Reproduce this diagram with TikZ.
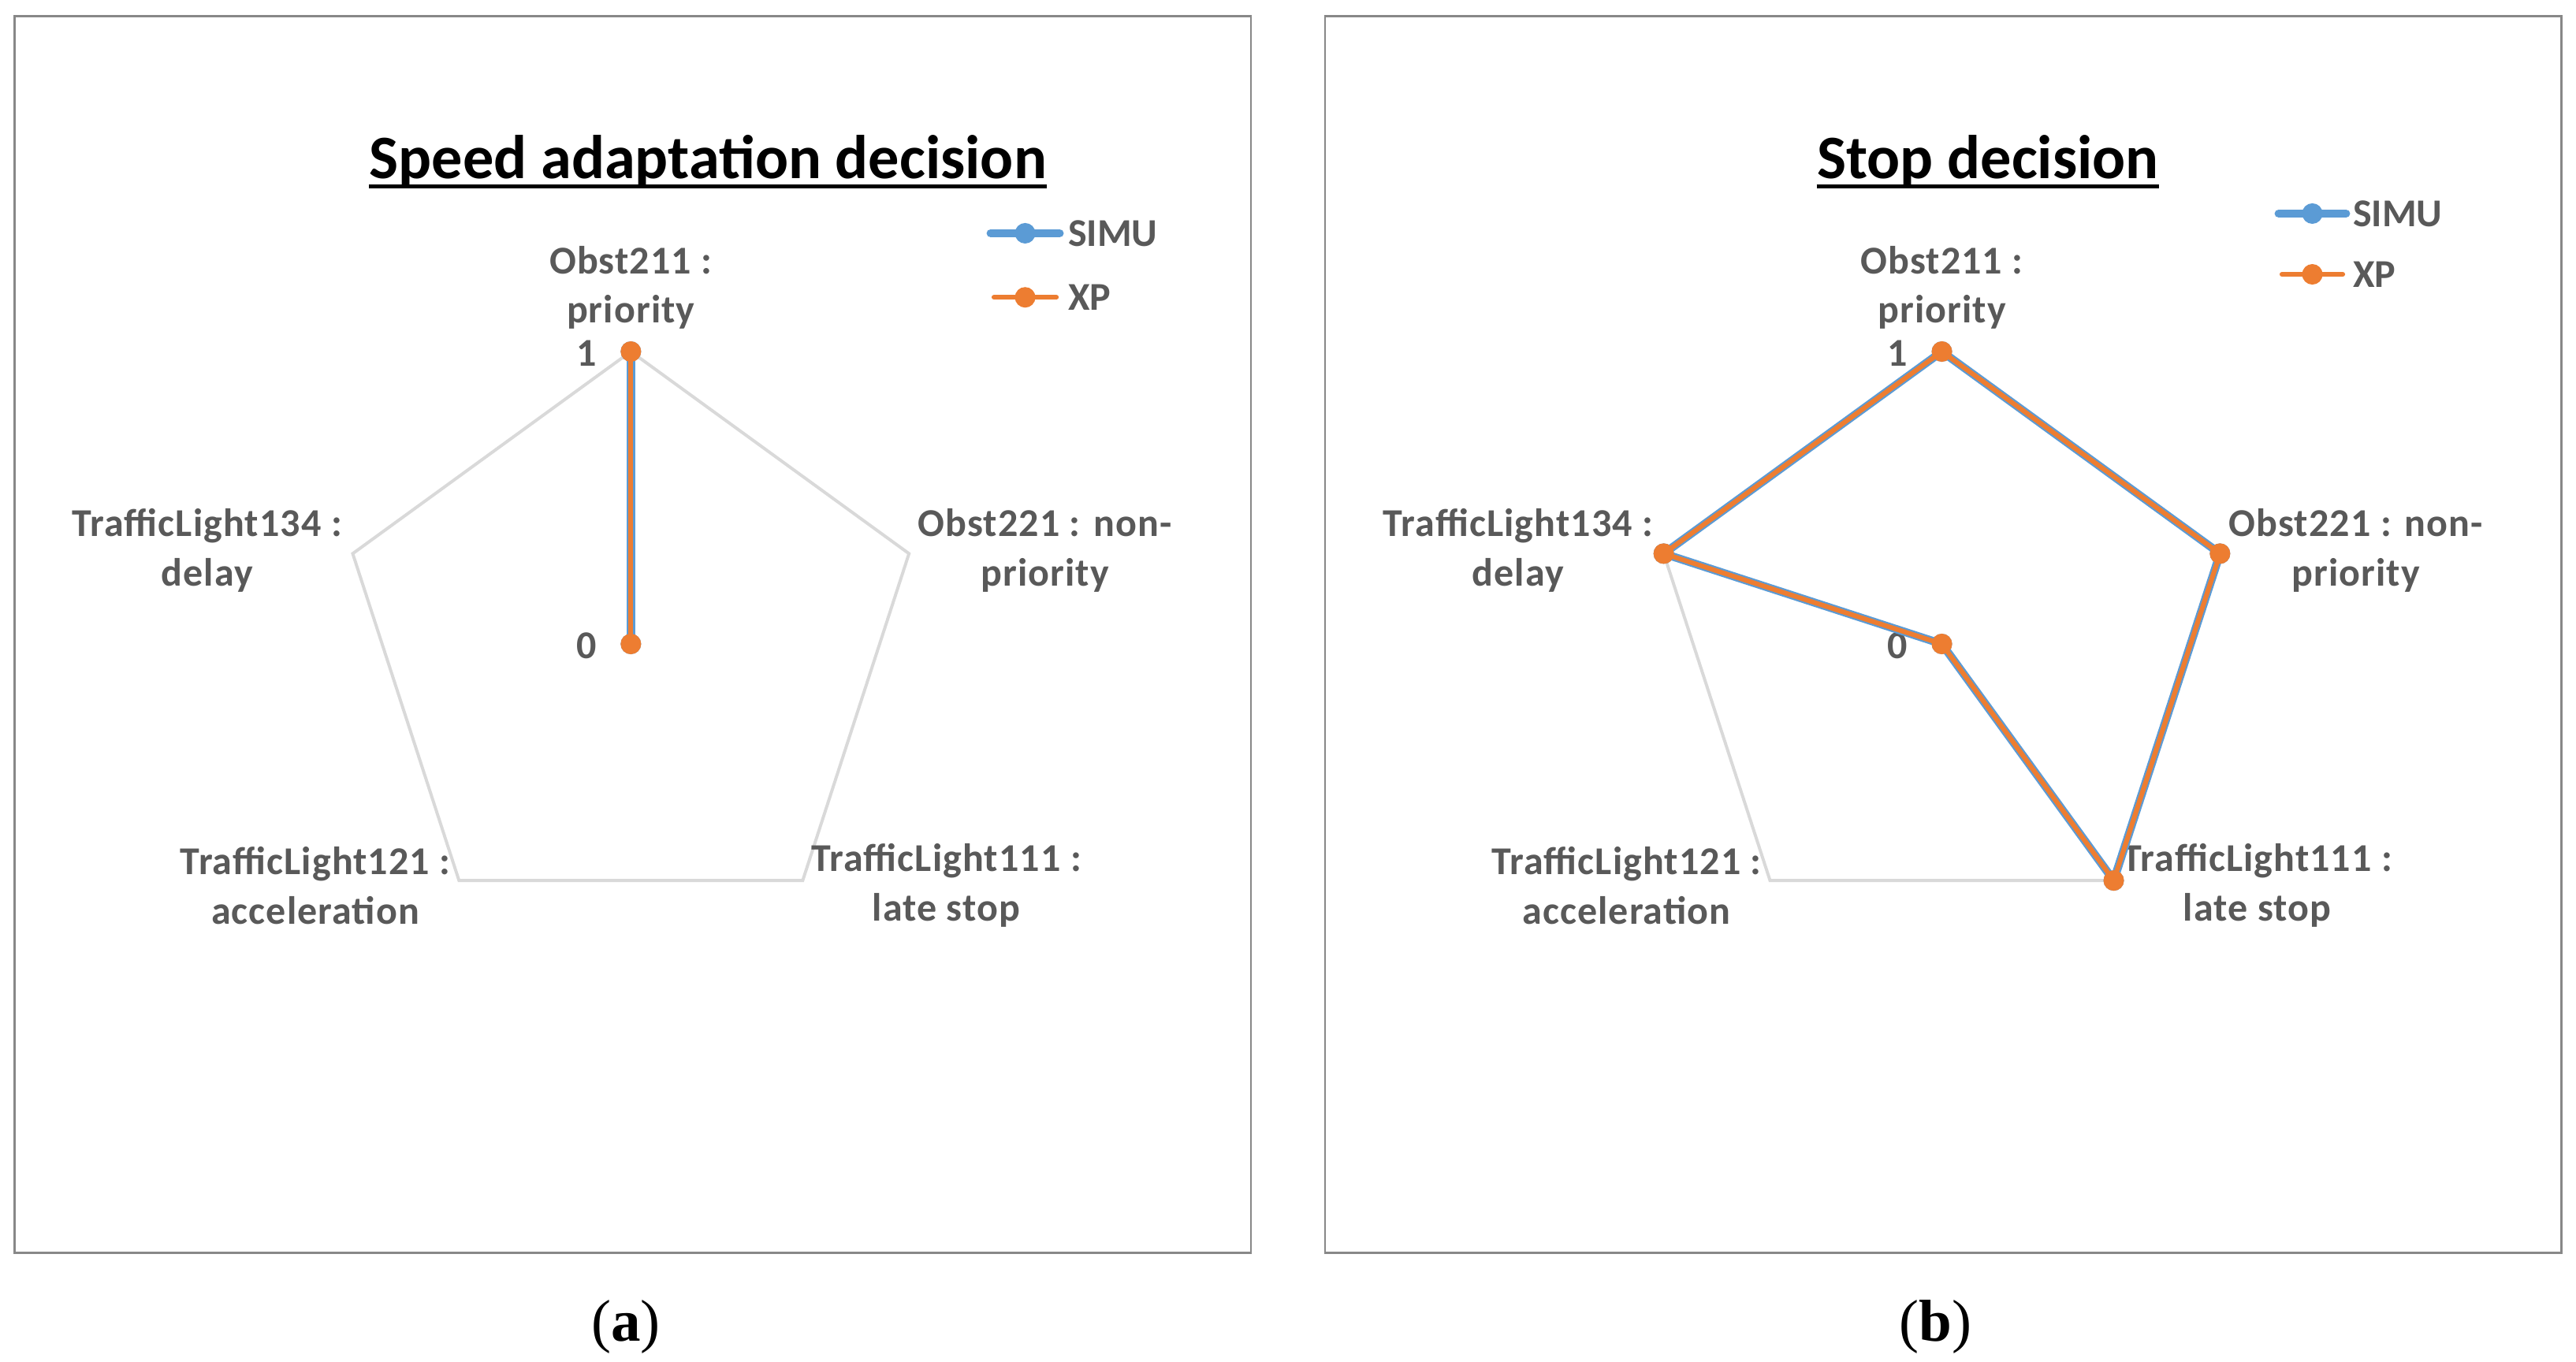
\documentclass[tikz,border=0pt]{standalone}
\usepackage{fontspec}
\newfontfamily\calfont{Carlito}
\newfontfamily\callab{Carlito}[LetterSpace=2.2]
\newfontfamily\capfont{Liberation Serif}
\definecolor{simublue}{HTML}{5B9BD5}
\definecolor{xporange}{HTML}{ED7D31}
\definecolor{labgray}{HTML}{595959}
\definecolor{gridgray}{HTML}{D9D9D9}
\definecolor{framegray}{HTML}{888888}
\tikzset{
  panel/.style={draw=framegray,line width=1.3pt},
  grid/.style={draw=gridgray,line width=1.9pt,line join=miter},
  simuline/.style={draw=simublue,line width=5pt,line join=round,line cap=round},
  xpline/.style={draw=xporange,line width=2.9pt,line join=round,line cap=round},
  simudot/.style={circle,fill=simublue,inner sep=0pt,minimum size=12.5pt},
  xpdot/.style={circle,fill=xporange,inner sep=0pt,minimum size=12.5pt},
  catlab/.style={text=labgray,font=\callab\bfseries\fontsize{24}{30}\selectfont,align=center,inner sep=0pt},
  ticklab/.style={text=labgray,font=\calfont\bfseries\fontsize{24}{30}\selectfont,inner sep=0pt},
  legtext/.style={text=labgray,font=\calfont\bfseries\fontsize{24}{30}\selectfont,anchor=west,inner sep=0pt},
  charttitle/.style={text=black,font=\calfont\bfseries\fontsize{37.6}{45}\selectfont,inner sep=0pt,anchor=base},
  subcap/.style={font=\capfont\fontsize{36}{40}\selectfont,anchor=base,inner sep=0pt}
}
\begin{document}
\begin{tikzpicture}[x=1pt,y=-1pt]
\useasboundingbox (0,0) rectangle (1568,829.1);
% frames
\draw[panel] (9,10) rectangle (761.5,762.5);
\draw[panel] (806.5,10) rectangle (1559,762.5);

% ---------- panel (a) ----------
\coordinate (aC) at (384,392);
\coordinate (aT) at (384,214);
\coordinate (aR) at (553.3,337);
\coordinate (aBR) at (488.6,536);
\coordinate (aBL) at (279.4,536);
\coordinate (aL) at (214.7,337);
\draw[grid] (aT) -- (aR) -- (aBR) -- (aBL) -- (aL) -- cycle;

\node[charttitle] (ttlA) at (431,108.7) {Speed adaptation decision};
\draw[line width=2.3pt] ([yshift=-4.7pt]ttlA.base west) -- ([yshift=-4.7pt]ttlA.base east);

\node[catlab] (aLabT) at (384,175) {Obst211 :\\priority};
\node[catlab] (aLabR) at (636,335) {Obst221 : non-\\priority};
\node[catlab] (aLabBR) at (576,539) {TrafficLight111 :\\late stop};
\node[catlab] (aLabBL) at (192,539) {TrafficLight121 :\\acceleration};
\node[catlab] (aLabL) at (126,335) {TrafficLight134 :\\delay};
\node[ticklab] (aOne) at (357,215) {1};
\node[ticklab] (aZero) at (357,393) {0};

\draw[simuline] (aT) -- (aC);
\node[simudot] (aS1) at (aT) {};
\node[simudot] (aS2) at (aC) {};
\draw[xpline] (aT) -- (aC);
\node[xpdot] (aX1) at (aT) {};
\node[xpdot] (aX2) at (aC) {};

% legend (a)
\coordinate (aLs1) at (603,142); \coordinate (aLs2) at (645,142);
\draw[simuline] (aLs1) -- (aLs2);
\node[simudot] (aLsd) at (624,142) {};
\node[legtext] (aLsT) at (650,142) {SIMU};
\coordinate (aLx1) at (605,181); \coordinate (aLx2) at (643,181);
\draw[xpline] (aLx1) -- (aLx2);
\node[xpdot] (aLxd) at (624,181) {};
\node[legtext] (aLxT) at (650,181) {XP};

\node[subcap] (capA) at (381,816.6) {(\textbf{a})};

% ---------- panel (b) ----------
\coordinate (bC) at (1182,392);
\coordinate (bT) at (1182,214);
\coordinate (bR) at (1351.3,337);
\coordinate (bBR) at (1286.6,536);
\coordinate (bBL) at (1077.4,536);
\coordinate (bL) at (1012.7,337);
\draw[grid] (bT) -- (bR) -- (bBR) -- (bBL) -- (bL) -- cycle;

\node[charttitle] (ttlB) at (1210,108.7) {Stop decision};
\draw[line width=2.3pt] ([yshift=-4.7pt]ttlB.base west) -- ([yshift=-4.7pt]ttlB.base east);

\node[catlab] (bLabT) at (1182,175) {Obst211 :\\priority};
\node[catlab] (bLabR) at (1434,335) {Obst221 : non-\\priority};
\node[catlab] (bLabBR) at (1374,539) {TrafficLight111 :\\late stop};
\node[catlab] (bLabBL) at (990,539) {TrafficLight121 :\\acceleration};
\node[catlab] (bLabL) at (924,335) {TrafficLight134 :\\delay};
\node[ticklab] (bOne) at (1155,215) {1};
\node[ticklab] (bZero) at (1155,393) {0};

\draw[simuline] (bT) -- (bR) -- (bBR) -- (bC) -- (bL) -- cycle;
\foreach \p in {bT,bR,bBR,bC,bL}{\node[simudot] at (\p) {};}
\draw[xpline] (bT) -- (bR) -- (bBR) -- (bC) -- (bL) -- cycle;
\foreach \p in {bT,bR,bBR,bC,bL}{\node[xpdot] at (\p) {};}

% legend (b)
\coordinate (bLs1) at (1387,130); \coordinate (bLs2) at (1428,130);
\draw[simuline] (bLs1) -- (bLs2);
\node[simudot] (bLsd) at (1407.5,130) {};
\node[legtext] (bLsT) at (1432,130) {SIMU};
\coordinate (bLx1) at (1389,167); \coordinate (bLx2) at (1426,167);
\draw[xpline] (bLx1) -- (bLx2);
\node[xpdot] (bLxd) at (1407.5,167) {};
\node[legtext] (bLxT) at (1432,167) {XP};

\node[subcap] (capB) at (1178,816.6) {(\textbf{b})};
\end{tikzpicture}
\end{document}
